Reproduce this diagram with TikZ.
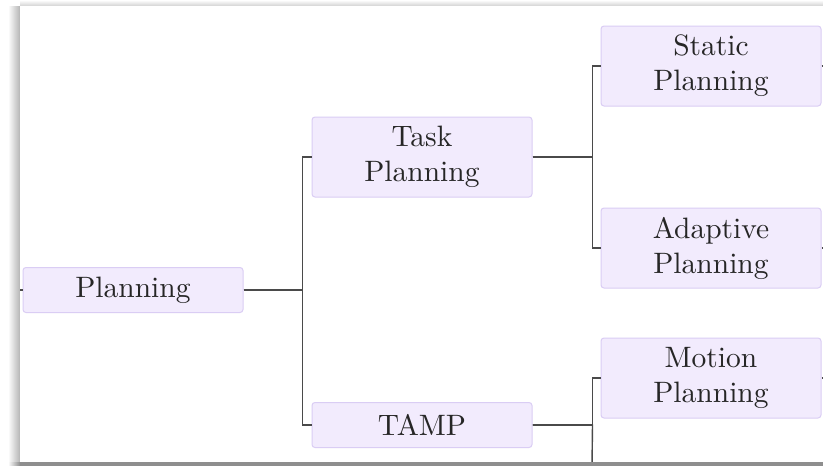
\documentclass[tikz,border=0pt]{standalone}
\usepackage{fontspec}
\setmainfont{lmroman10-regular}[Extension=.otf]
\definecolor{boxfill}{HTML}{F2EBFD}
\definecolor{boxline}{HTML}{DACDF4}
\definecolor{linecol}{HTML}{4A4A4A}
\definecolor{textcol}{HTML}{262626}
\definecolor{shadowcol}{HTML}{B4B4B4}
\definecolor{barcol}{HTML}{8E8E8E}
\begin{document}
\begin{tikzpicture}[x=1pt,y=-1pt,
  box/.style={draw=boxline, fill=boxfill, rounded corners=3pt, line width=1pt,
    minimum width=220pt, minimum height=45pt, inner sep=0pt, align=center,
    text=textcol, font=\fontsize{29.5}{35}\selectfont},
  tallbox/.style={box, minimum height=80pt},
  conn/.style={draw=linecol, line width=1.4pt}]
\useasboundingbox (0,0) rectangle (823,466);
% page background and the panel's soft shadow
\fill[white] (0,0) rectangle (823,466);
\shade[left color=white, right color=shadowcol] (8,6) rectangle (20,466);
\shade[top color=white, bottom color=shadowcol!60] (20,0) rectangle (823,6);
\fill[white] (20,6) rectangle (823,462);

% nodes
\node[box]     (plan)   at (133,290) {Planning};
\node[tallbox] (task)   at (422,157) {Task\\Planning};
\node[box]     (tamp)   at (422,425) {TAMP};
\node[tallbox] (static) at (711,66)  {Static\\Planning};
\node[tallbox] (adapt)  at (711,248) {Adaptive\\Planning};
\node[tallbox] (motion) at (711,378) {Motion\\Planning};

% ends of connectors that leave the panel
\coordinate (inleft) at (20,290);
\coordinate (outs)   at (823,66);
\coordinate (outa)   at (823,248);
\coordinate (outm)   at (823,378);
\coordinate (outdown) at (592,466);

% connectors
\draw[conn] (inleft) -- (plan.west);
\draw[conn] (plan.east) -- ++(59,0) |- (task.west);
\draw[conn] (plan.east) -- ++(59,0) |- (tamp.west);
\draw[conn] (task.east) -- ++(60,0) |- (static.west);
\draw[conn] (task.east) -- ++(60,0) |- (adapt.west);
\draw[conn] (tamp.east) -- ++(60,0) |- (motion.west);
\draw[conn] (tamp.east) -- ++(60,0) -- (outdown);
\draw[conn] (static.east) -- (outs);
\draw[conn] (adapt.east) -- (outa);
\draw[conn] (motion.east) -- (outm);

% bottom edge of the panel
\fill[barcol] (20,462) rectangle (823,466);
\shade[left color=white, right color=barcol] (8,462) rectangle (20,466);
\end{tikzpicture}
\end{document}
